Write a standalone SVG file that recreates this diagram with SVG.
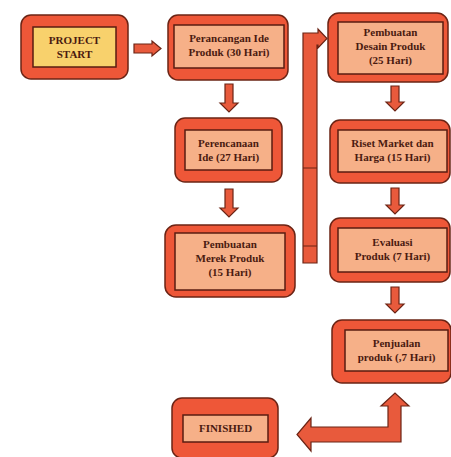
<svg xmlns="http://www.w3.org/2000/svg" width="451" height="457" viewBox="0 0 451 457">
<style>
.outer{fill:#EE5738;stroke:#6b2415;stroke-width:1.5}
.inner{fill:#F6B088;stroke:#5a1d10;stroke-width:1.5}
.start{fill:#F8D16C;stroke:#5a1d10;stroke-width:1.5}
.arr{fill:#E85A3C;stroke:#6b2415;stroke-width:1.2;stroke-linejoin:miter}
.seam{stroke:#6b2415;stroke-width:1}
text{font-family:"Liberation Serif","Times New Roman",serif;font-size:11px;font-weight:bold;fill:#4a1a10;text-anchor:middle}
</style>
<rect width="451" height="457" fill="#ffffff"/>
<g id="connectors">
<polygon class="arr" points="134,44 152,44 152,41 161,48.5 152,56 152,53 134,53"/>
<polygon class="arr" points="225,84 233,84 233,103 238,103 229,112 220,103 225,103"/>
<polygon class="arr" points="225,189 233,189 233,208 238,208 229,217 220,208 225,208"/>
<polygon class="arr" points="391,86 399,86 399,102 404,102 395,111 386,102 391,102"/>
<polygon class="arr" points="391,188 399,188 399,205 404,205 395,214 386,205 391,205"/>
<polygon class="arr" points="391,287 399,287 399,304 404,304 395,313 386,304 391,304"/>
<polygon class="arr" points="303,263 303,33 318,33 318,29 327,38.5 318,48 318,45 317,45 317,263"/>
<line class="seam" x1="303" y1="168" x2="317" y2="168"/>
<line class="seam" x1="303" y1="246" x2="317" y2="246"/>
<polygon class="arr" points="388,406 381,406 395,393 409,406 401,406 401,442 311,442 311,451 297,434.5 311,418 311,427 388,427"/>
</g>
<g id="project-start">
<rect class="outer" x="21" y="15" width="107" height="64" rx="10"/>
<rect class="start" x="33" y="27" width="83" height="40"/>
<text x="74.5" y="44">PROJECT</text>
<text x="74.5" y="58">START</text>
</g>
<g id="perancangan-ide">
<rect class="outer" x="168" y="15" width="120" height="65" rx="10"/>
<rect class="inner" x="174" y="25" width="110" height="43"/>
<text x="229" y="42">Perancangan Ide</text>
<text x="229" y="56">Produk (30 Hari)</text>
</g>
<g id="perencanaan-ide">
<rect class="outer" x="175" y="118" width="107" height="64" rx="10"/>
<rect class="inner" x="185" y="130" width="87" height="40"/>
<text x="228.5" y="147">Perencanaan</text>
<text x="228.5" y="161">Ide (27 Hari)</text>
</g>
<g id="pembuatan-merek">
<rect class="outer" x="165" y="225" width="130" height="72" rx="11"/>
<rect class="inner" x="175" y="233" width="110" height="57"/>
<text x="230" y="248">Pembuatan</text>
<text x="230" y="262">Merek Produk</text>
<text x="230" y="276">(15 Hari)</text>
</g>
<g id="pembuatan-desain">
<rect class="outer" x="328" y="13" width="120" height="69" rx="11"/>
<rect class="inner" x="338" y="22" width="105" height="52"/>
<text x="390.5" y="36">Pembuatan</text>
<text x="390.5" y="50">Desain Produk</text>
<text x="390.5" y="64">(25 Hari)</text>
</g>
<g id="riset-market">
<rect class="outer" x="330" y="120" width="120" height="63" rx="10"/>
<rect class="inner" x="338" y="130" width="109" height="42"/>
<text x="392.5" y="147">Riset Market dan</text>
<text x="392.5" y="161">Harga (15 Hari)</text>
</g>
<g id="evaluasi-produk">
<rect class="outer" x="330" y="218" width="120" height="64" rx="10"/>
<rect class="inner" x="338" y="228" width="109" height="44"/>
<text x="392.5" y="246">Evaluasi</text>
<text x="392.5" y="260">Produk (7 Hari)</text>
</g>
<g id="penjualan-produk">
<rect class="outer" x="332" y="320" width="119" height="63" rx="10"/>
<rect class="inner" x="345" y="330" width="103" height="41"/>
<text x="396.5" y="347">Penjualan</text>
<text x="396.5" y="361">produk (,7 Hari)</text>
</g>
<g id="finished">
<rect class="outer" x="172" y="398" width="106" height="60" rx="10"/>
<rect class="inner" x="183" y="415" width="85" height="27"/>
<text x="225.5" y="432">FINISHED</text>
</g>
</svg>
